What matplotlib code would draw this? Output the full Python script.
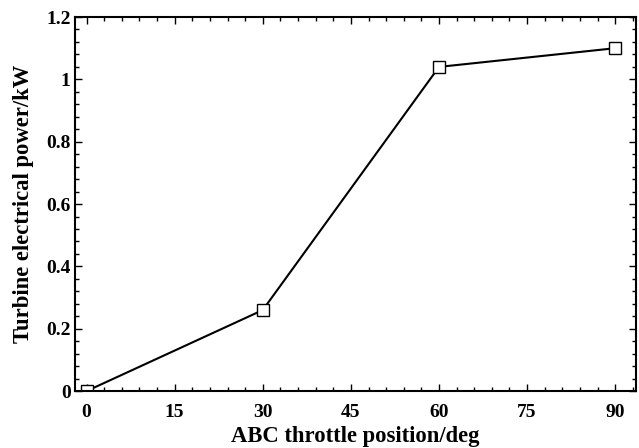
import matplotlib
matplotlib.use("Agg")
import matplotlib.pyplot as plt
from matplotlib.ticker import MultipleLocator

# data
throttle = [0, 30, 60, 90]
power = [0.0, 0.26, 1.04, 1.10]

plt.rcParams['font.family'] = ['Liberation Serif', 'DejaVu Serif']
plt.rcParams['font.weight'] = 'bold'

fig = plt.figure(figsize=(6.39, 4.48), dpi=100)
ax = fig.add_axes([0.117, 0.127, 0.878, 0.835])

ax.plot(throttle, power, color='black', lw=1.5, marker='s', ms=8,
        mfc='white', mec='black', mew=1.0)

ax.set_xlim(-2, 93.5)
ax.set_ylim(0, 1.2)
ax.xaxis.set_major_locator(MultipleLocator(15))
ax.xaxis.set_minor_locator(MultipleLocator(3))
ax.yaxis.set_major_locator(MultipleLocator(0.2))
ax.yaxis.set_minor_locator(MultipleLocator(0.04))
ax.yaxis.set_major_formatter(plt.FuncFormatter(lambda v, p: f"{v:g}"))

ax.tick_params(which='both', direction='in', top=True, right=True, width=1.0)
ax.tick_params(which='major', length=5, labelsize=14)
ax.tick_params(axis='x', which='major', pad=9)
ax.tick_params(axis='y', which='major', pad=3)
ax.tick_params(which='minor', length=3)
for s in ax.spines.values():
    s.set_linewidth(1.5)

ax.set_xlabel('ABC throttle position/deg', fontsize=16.3, fontweight='bold', labelpad=4)
ax.set_ylabel('Turbine electrical power/kW', fontsize=16.3, fontweight='bold', labelpad=9)

fig.savefig('out.png', dpi=100)
